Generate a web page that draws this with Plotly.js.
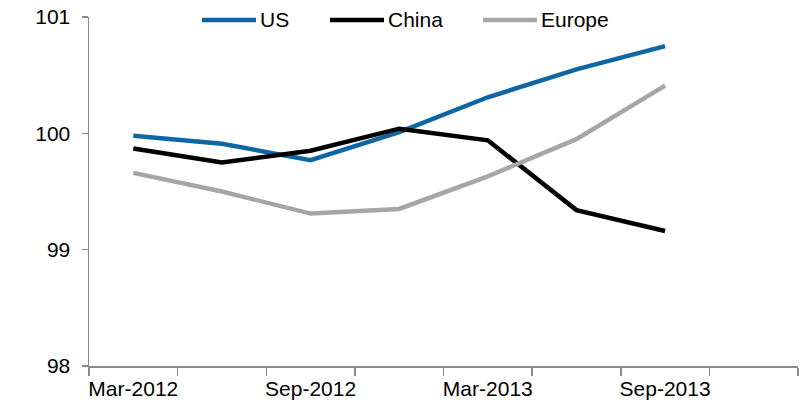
<!DOCTYPE html>
<html>
<head>
<meta charset="utf-8">
<script src="https://cdn.plot.ly/plotly-3.0.1.min.js"></script>
<style>html,body{margin:0;padding:0;background:#fff}#chart{width:802px;height:405px}</style>
</head>
<body>
<div id="chart"></div>
<script>
var categories = ['Mar-2012','Jun-2012','Sep-2012','Dec-2012','Mar-2013','Jun-2013','Sep-2013','Dec-2013'];
var tickLabels = ['Mar-2012','Sep-2012','Mar-2013','Sep-2013'];
var seriesNames = ['US','China','Europe'];
var us     = [99.98, 99.91, 99.77, 100.01, 100.31, 100.55, 100.75];
var china  = [99.87, 99.75, 99.85, 100.04, 99.94, 99.34, 99.16];
var europe = [99.66, 99.50, 99.31, 99.35, 99.63, 99.95, 100.41];
var yTicks = [98, 99, 100, 101];

var colors = ['#0e66a4', '#000000', '#a6a6a6'];
var values = [us, china, europe];
var FONT = 'Liberation Sans, Arial, sans-serif';

var W = 802, H = 405, ml = 89, mr = 4, mt = 17, mb = 39;
var pw = W - ml - mr, ph = H - mt - mb;

var traces = values.map(function (v, i) {
  return {
    x: v.map(function (_, k) { return k; }),
    y: v,
    name: seriesNames[i],
    type: 'scatter',
    mode: 'lines',
    line: {color: colors[i], width: 4.5},
    hoverinfo: 'skip',
    showlegend: false
  };
});

var tickvals = tickLabels.map(function (t) { return categories.indexOf(t); });

// manual legend (positions in pixels converted to paper units)
var legendStartPx = [202, 330, 483];
var legendLineLen = 54, legendY = 20;
var shapes = [], annotations = [];
seriesNames.forEach(function (n, i) {
  var x0 = (legendStartPx[i] - ml) / pw;
  var x1 = (legendStartPx[i] + legendLineLen - ml) / pw;
  var yy = (H - mb - legendY) / ph;
  shapes.push({type: 'line', xref: 'paper', yref: 'paper', x0: x0, x1: x1, y0: yy, y1: yy,
    line: {color: colors[i], width: 4.5}});
  annotations.push({xref: 'paper', yref: 'paper', x: x1 + 2 / pw, y: yy, xanchor: 'left', yanchor: 'middle',
    text: n, showarrow: false, font: {family: FONT, size: 21, color: '#000'}});
});

var layout = {
  width: W, height: H,
  margin: {l: ml, r: mr, t: mt, b: mb, pad: 0},
  paper_bgcolor: '#fff', plot_bgcolor: '#fff',
  font: {family: FONT, size: 21, color: '#000'},
  xaxis: {
    range: [-0.5, categories.length - 0.5],
    tickmode: 'array', tickvals: tickvals, ticktext: tickLabels,
    ticks: '', showgrid: false, zeroline: false,
    showline: true, linecolor: '#8a8a8a', linewidth: 1.5,
    minor: {tick0: -0.5, dtick: 1, ticks: 'outside', ticklen: 8, tickcolor: '#8a8a8a', tickwidth: 1.5, showgrid: false},
    tickfont: {family: FONT, size: 21, color: '#000'},
    ticklabelstandoff: 3,
    fixedrange: true
  },
  yaxis: {
    range: [98, 101],
    tickmode: 'array', tickvals: yTicks, ticktext: yTicks.map(String),
    ticks: 'outside', ticklen: 6, tickcolor: '#8a8a8a', tickwidth: 1.5,
    showgrid: false, zeroline: false,
    showline: true, linecolor: '#8a8a8a', linewidth: 1.5,
    tickfont: {family: FONT, size: 21, color: '#000'},
    ticklabelstandoff: 7,
    fixedrange: true
  },
  shapes: shapes,
  annotations: annotations,
  showlegend: false
};

Plotly.newPlot('chart', traces, layout, {displayModeBar: false, staticPlot: true});
</script>
</body>
</html>
